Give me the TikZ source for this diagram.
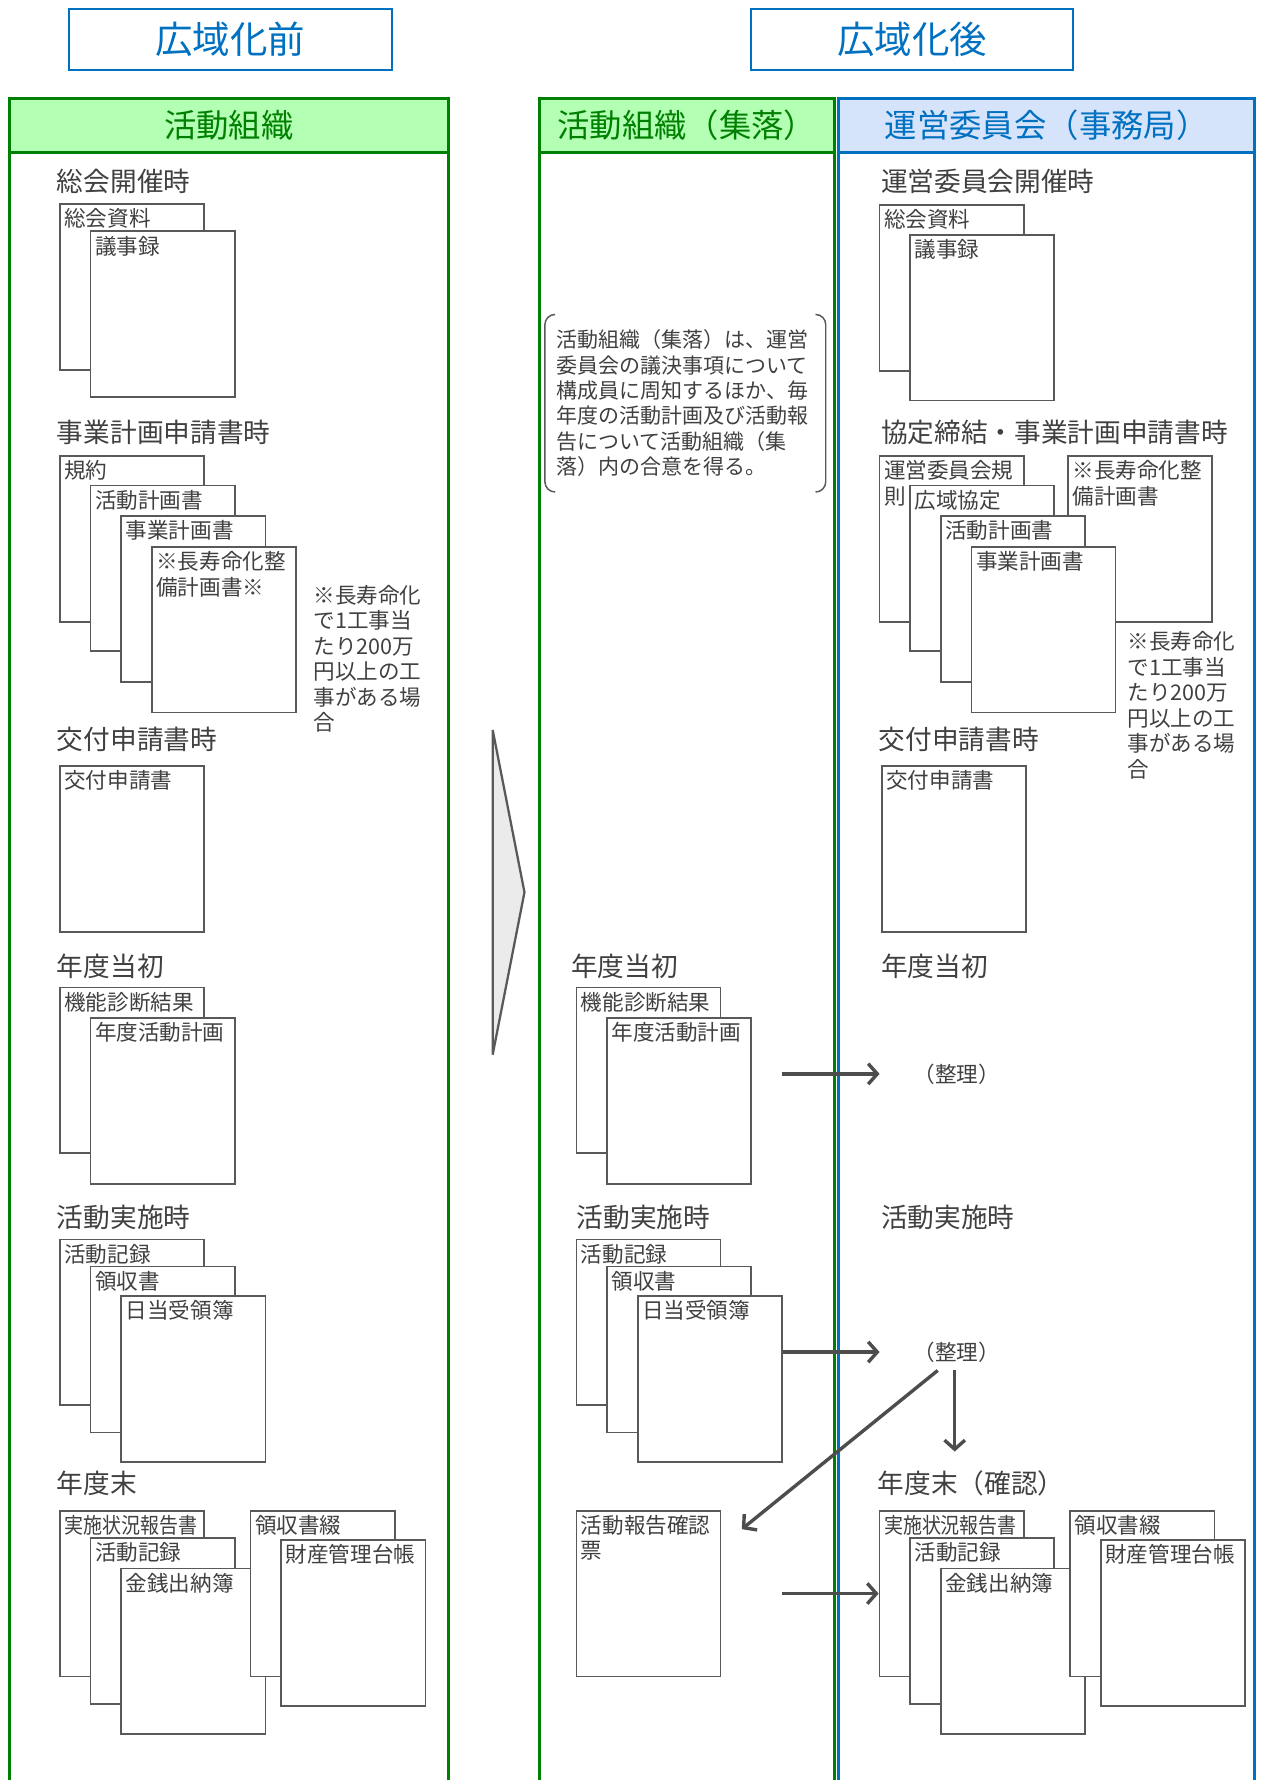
\documentclass[tikz,border=0pt]{standalone}
\usepackage{fontspec}
\setmainfont{Noto Sans CJK JP}
\usetikzlibrary{arrows.meta,positioning}

\definecolor{grpgreen}{HTML}{008000}
\definecolor{grpgreenfill}{HTML}{B3FFB3}
\definecolor{grpblue}{HTML}{0070C0}
\definecolor{grpbluefill}{HTML}{D6E4FB}
\definecolor{txtgray}{HTML}{404040}
\definecolor{docline}{HTML}{595959}
\definecolor{flowgray}{HTML}{4D4D4D}
\definecolor{chevfill}{HTML}{EBEBEB}

\newcommand\ttlsize{\fontsize{33}{38}\selectfont}
\newcommand\headsize{\fontsize{28.5}{33}\selectfont}
\newcommand\secsize{\fontsize{23.5}{28}\selectfont}
\newcommand\docsize{\fontsize{19}{22.5}\selectfont}
\newcommand\notesize{\fontsize{18.5}{22.4}\selectfont}

\begin{document}
\begin{tikzpicture} [x=1pt, y=-1pt,
  titlebox/.style={draw=grpblue, line width=1.8pt, text=grpblue, font=\ttlsize, minimum width=284pt, minimum height=54pt},
  headgreen/.style={draw=grpgreen, fill=grpgreenfill, line width=2.6pt, text=grpgreen, font=\headsize, minimum height=47pt},
  headblue/.style={draw=grpblue, fill=grpbluefill, line width=2.6pt, text=grpblue, font=\headsize, minimum height=47pt},
  greenline/.style={draw=grpgreen, line width=2.6pt},
  blueline/.style={draw=grpblue, line width=2.6pt},
  section/.style={anchor=west, inner sep=0pt, text=txtgray, font=\secsize},
  doc/.style={draw=docline, line width=1.5pt, fill=white, anchor=north west, text width=119pt, inner xsep=4pt, inner ysep=3pt, text height=17pt, text depth=123pt, align=left, text=txtgray, font=\docsize},
  remark/.style={anchor=north west, inner sep=0pt, align=left, text=txtgray, font=\docsize},
  bnote/.style={anchor=north west, minimum width=247pt, minimum height=156pt, text width=227pt, inner xsep=10pt, align=left, text=txtgray, font=\notesize},
  bracket/.style={draw=docline, line width=1.3pt, rounded corners=9pt},
  seiri/.style={inner sep=0pt, text=txtgray, font=\docsize},
  flow/.style={draw=flowgray, line width=3pt, -{Straight Barb[length=8pt, width=18pt]}},
  chev/.style={draw=docline, fill=chevfill, line width=2pt}]

	\useasboundingbox (0,0) rectangle (1113,1568);

	% titles
	\node[titlebox] (before) at (203,35) {広域化前};
	\node[titlebox] (after) at (803.5,35) {広域化後};

	% columns
	\draw[greenline] (8,1580) -- (8,110) (395,110) -- (395,1580);
	\draw[greenline] (475,1580) -- (475,110) (735,110) -- (735,1580);
	\draw[blueline] (739,1580) -- (739,110) (1105,110) -- (1105,1580);
	\node[headgreen, minimum width=387pt] (l-head) at (201.5,110.5) {活動組織};
	\node[headgreen, minimum width=260pt] (m-head) at (605,110.5) {活動組織（集落）};
	\node[headblue, minimum width=366pt] (r-head) at (922,110.5) {運営委員会（事務局）};

	\draw[chev] (434,643) -- (462,786) -- (434,929) -- cycle;

	% before: activity organisation
	\node[section] (l-sec1) at (50,160) {総会開催時};
	\node[doc] (l-sokai) at (52,179) {総会資料};
	\node[doc] (l-gijiroku) at ([shift={(27,24)}]l-sokai.north west) {議事録};

	\node[section] (l-sec2) at (50,381) {事業計画申請書時};
	\node[doc] (l-kiyaku) at (52,401) {規約};
	\node[doc] (l-katsukei) at ([shift={(27,26)}]l-kiyaku.north west) {活動計画書};
	\node[doc] (l-jigyokei) at ([shift={(27,27)}]l-katsukei.north west) {事業計画書};
	\node[doc] (l-chouju) at ([shift={(27,27)}]l-jigyokei.north west) {※長寿命化整\\備計画書※};
	\node[remark] (l-remark) at (276,515) {※長寿命化\\で1工事当\\たり200万\\円以上の工\\事がある場\\合};

	\node[section] (l-sec3) at (50,651) {交付申請書時};
	\node[doc] (l-koufu) at (52,674) {交付申請書};

	\node[section] (l-sec4) at (50,851) {年度当初};
	\node[doc] (l-kinou) at (52,869) {機能診断結果};
	\node[doc] (l-nendokei) at ([shift={(27,27)}]l-kinou.north west) {年度活動計画};

	\node[section] (l-sec5) at (50,1072) {活動実施時};
	\node[doc] (l-kiroku) at (52,1091) {活動記録};
	\node[doc] (l-ryoshu) at ([shift={(27,24)}]l-kiroku.north west) {領収書};
	\node[doc] (l-nittou) at ([shift={(27,26)}]l-ryoshu.north west) {日当受領簿};

	\node[section] (l-sec6) at (50,1307) {年度末};
	\node[doc] (l-jisshi) at (52,1330) {\scalebox{0.88}[1]{実施状況報告書}};
	\node[doc] (l-kiroku2) at ([shift={(27,24)}]l-jisshi.north west) {活動記録};
	\node[doc] (l-kinsen) at ([shift={(27,27)}]l-kiroku2.north west) {金銭出納簿};
	\node[doc] (l-tsuzuri) at (220,1330) {領収書綴};
	\node[doc] (l-zaisan) at ([shift={(27,26)}]l-tsuzuri.north west) {財産管理台帳};

	% after: village
	\node[bnote] (m-note) at (480,277) {活動組織（集落）は、運営\\委員会の議決事項について\\構成員に周知するほか、毎\\年度の活動計画及び活動報\\告について活動組織（集\\落）内の合意を得る。};
	\draw[bracket] ([xshift=9pt]m-note.north west) -- (m-note.north west) -- (m-note.south west) -- ([xshift=9pt]m-note.south west);
	\draw[bracket] ([xshift=-9pt]m-note.north east) -- (m-note.north east) -- (m-note.south east) -- ([xshift=-9pt]m-note.south east);

	\node[section] (m-sec4) at (503,851) {年度当初};
	\node[doc] (m-kinou) at (507,869) {機能診断結果};
	\node[doc] (m-nendokei) at ([shift={(27,27)}]m-kinou.north west) {年度活動計画};

	\node[section] (m-sec5) at (508,1072) {活動実施時};
	\node[doc] (m-kiroku) at (507,1091) {活動記録};
	\node[doc] (m-ryoshu) at ([shift={(27,24)}]m-kiroku.north west) {領収書};
	\node[doc] (m-nittou) at ([shift={(27,26)}]m-ryoshu.north west) {日当受領簿};

	\node[doc] (m-kakunin) at (507,1330) {活動報告確認\\票};

	% after: committee
	\node[section] (r-sec1) at (776,160) {運営委員会開催時};
	\node[doc] (r-sokai) at (774,180) {総会資料};
	\node[doc] (r-gijiroku) at ([shift={(27,26)}]r-sokai.north west) {議事録};

	\node[section] (r-sec2) at (776,381) {協定締結・事業計画申請書時};
	\node[doc] (r-chouju) at (940,401) {※長寿命化整\\備計画書};
	\node[doc] (r-kiyaku) at (774,401) {運営委員会規\\則};
	\node[doc] (r-kouiki) at ([shift={(27,26)}]r-kiyaku.north west) {広域協定};
	\node[doc] (r-katsukei) at ([shift={(27,27)}]r-kouiki.north west) {活動計画書};
	\node[doc] (r-jigyokei) at ([shift={(27,27)}]r-katsukei.north west) {事業計画書};
	\node[remark] (r-remark) at (993,556) {※長寿命化\\で1工事当\\たり200万\\円以上の工\\事がある場\\合};

	\node[section] (r-sec3) at (774,651) {交付申請書時};
	\node[doc] (r-koufu) at (776,674) {交付申請書};

	\node[section] (r-sec4) at (776,851) {年度当初};
	\node[seiri] (seiri1) at (843,946) {（整理）};

	\node[section] (r-sec5) at (776,1072) {活動実施時};
	\node[seiri] (seiri2) at (843,1191) {（整理）};

	\node[section] (r-sec6) at (773,1307) {年度末（確認）};
	\node[doc] (r-jisshi) at (774,1330) {\scalebox{0.88}[1]{実施状況報告書}};
	\node[doc] (r-kiroku2) at ([shift={(27,24)}]r-jisshi.north west) {活動記録};
	\node[doc] (r-kinsen) at ([shift={(27,27)}]r-kiroku2.north west) {金銭出納簿};
	\node[doc] (r-tsuzuri) at (942,1330) {領収書綴};
	\node[doc] (r-zaisan) at ([shift={(27,26)}]r-tsuzuri.north west) {財産管理台帳};

	% draw edges
	\coordinate (report-in) at ([xshift=18pt,yshift=-17pt]m-kakunin.north east);
	\draw[flow, shorten <=26pt, shorten >=30pt] (m-nendokei.east |- seiri1.west) -- (seiri1.west);
	\draw[flow, shorten >=30pt] (m-nittou.east |- seiri2.west) -- (seiri2.west);
	\draw[flow] ([xshift=-17pt,yshift=-7pt]seiri2.south) -- (report-in);
	\draw[flow, shorten >=17pt] ([xshift=-2pt,yshift=-7pt]seiri2.south) -- ([xshift=-2pt]seiri2.south |- r-sec6.north);
	\draw[flow, shorten <=53pt] (m-kakunin.east) -- (m-kakunin.east -| r-jisshi.west);
\end{tikzpicture}
\end{document}
